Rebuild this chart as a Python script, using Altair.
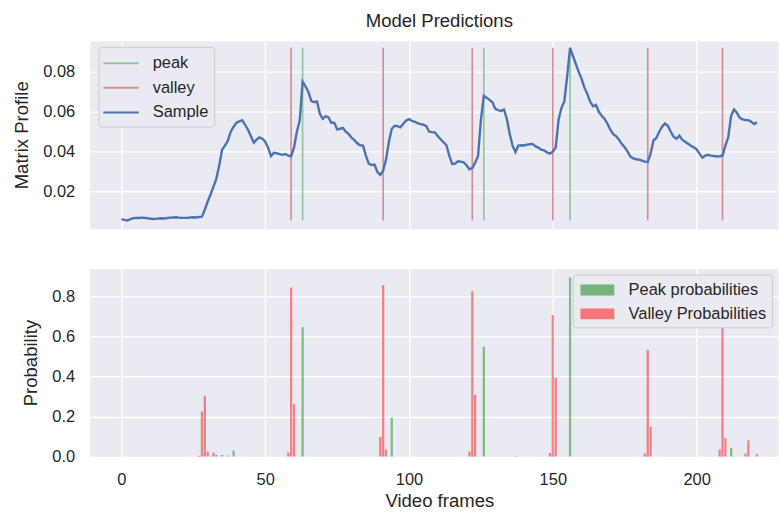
import altair as alt
import pandas as pd

# ---------------- data ----------------
sample = [
    0.0062, 0.0058, 0.0055, 0.0060, 0.0066, 0.0068, 0.0067, 0.0069, 0.0068, 0.0066,
    0.0064, 0.0062, 0.0063, 0.0065, 0.0066, 0.0065, 0.0067, 0.0069, 0.0070, 0.0071,
    0.0069, 0.0068, 0.0068, 0.0068, 0.0070, 0.0071, 0.0070, 0.0072, 0.0074, 0.0110,
    0.0150, 0.0185, 0.0225, 0.0265, 0.0330, 0.0410, 0.0430, 0.0455, 0.0500, 0.0525,
    0.0545, 0.0552, 0.0558, 0.0535, 0.0510, 0.0478, 0.0445, 0.0460, 0.0472, 0.0465,
    0.0450, 0.0420, 0.0378, 0.0394, 0.0392, 0.0388, 0.0384, 0.0388, 0.0380, 0.0377,
    0.0420, 0.0500, 0.0556, 0.0752, 0.0728, 0.0700, 0.0655, 0.0648, 0.0652, 0.0590,
    0.0565, 0.0578, 0.0572, 0.0545, 0.0545, 0.0512, 0.0515, 0.0519, 0.0500, 0.0489,
    0.0470, 0.0458, 0.0442, 0.0432, 0.0430, 0.0380, 0.0340, 0.0333, 0.0335, 0.0298,
    0.0284, 0.0305, 0.0360, 0.0450, 0.0515, 0.0530, 0.0528, 0.0522, 0.0540, 0.0556,
    0.0563, 0.0555, 0.0550, 0.0543, 0.0538, 0.0535, 0.0528, 0.0500, 0.0498, 0.0497,
    0.0478, 0.0462, 0.0447, 0.0432, 0.0380, 0.0338, 0.0340, 0.0352, 0.0350, 0.0346,
    0.0332, 0.0312, 0.0318, 0.0345, 0.0378, 0.0560, 0.0680, 0.0670, 0.0660, 0.0648,
    0.0615, 0.0608, 0.0604, 0.0612, 0.0565, 0.0490, 0.0430, 0.0398, 0.0430, 0.0432,
    0.0431, 0.0435, 0.0437, 0.0439, 0.0426, 0.0420, 0.0410, 0.0406, 0.0396, 0.0390,
    0.0400, 0.0420, 0.0560, 0.0620, 0.0652, 0.0780, 0.0921, 0.0880, 0.0840, 0.0800,
    0.0765, 0.0720, 0.0690, 0.0650, 0.0628, 0.0635, 0.0600, 0.0580, 0.0564, 0.0540,
    0.0510, 0.0488, 0.0478, 0.0460, 0.0438, 0.0422, 0.0400, 0.0375, 0.0366, 0.0362,
    0.0360, 0.0355, 0.0350, 0.0348, 0.0390, 0.0456, 0.0469, 0.0500, 0.0525, 0.0542,
    0.0530, 0.0500, 0.0475, 0.0465, 0.0480, 0.0460, 0.0450, 0.0440, 0.0430, 0.0422,
    0.0412, 0.0390, 0.0370, 0.0380, 0.0384, 0.0380, 0.0378, 0.0376, 0.0377, 0.0380,
    0.0430, 0.0472, 0.0580, 0.0612, 0.0595, 0.0570, 0.0562, 0.0558, 0.0558, 0.0550,
    0.0539, 0.0547,
]
frames = list(range(len(sample)))

peak_frames = [63, 126, 156]
valley_frames = [59, 91, 122, 150, 183, 209]

peak_prob_frames = [35, 39, 63, 94, 126, 156, 212]
peak_prob_values = [0.008, 0.03, 0.647, 0.195, 0.55, 0.896, 0.043]

valley_prob_frames = [27, 28, 29, 30, 32, 33, 37, 58, 59, 60, 90, 91, 92,
                      121, 122, 123, 137, 149, 150, 151, 182, 183, 184,
                      208, 209, 210, 217, 218, 221]
valley_prob_values = [0.004, 0.226, 0.304, 0.025, 0.02, 0.008, 0.005, 0.02, 0.846, 0.263,
                      0.098, 0.858, 0.035, 0.025, 0.828, 0.309, 0.003, 0.018, 0.708, 0.394,
                      0.015, 0.534, 0.148, 0.035, 0.675, 0.093, 0.015, 0.081, 0.012]

x_ticks = [0, 50, 100, 150, 200]

# ---------------- tables ----------------
sample_df = pd.DataFrame({"frame": frames, "value": sample, "kind": "Sample"})
marks_df = pd.DataFrame({
    "frame": peak_frames + valley_frames,
    "kind": ["peak"] * len(peak_frames) + ["valley"] * len(valley_frames),
})
marks_df["y0"] = min(sample)
marks_df["y1"] = max(sample)

bars_df = pd.DataFrame({
    "frame": peak_prob_frames + valley_prob_frames,
    "prob": peak_prob_values + valley_prob_values,
    "series": ["Peak probabilities"] * len(peak_prob_frames)
    + ["Valley Probabilities"] * len(valley_prob_frames),
})

FONT = "Liberation Sans"
TXT = "#262626"
PLOT_W = 691
PLOT_H = 188.7
TICK_FS = 16.5
TITLE_FS = 18.6

xscale = alt.Scale(domain=[-11.05, 228.3], nice=False, zero=False)

top_color = alt.Scale(domain=["peak", "valley", "Sample"],
                      range=["#90C89E", "#DA8C95", "#4C72B0"])
top_legend = alt.Legend(
    title=None, orient="none", legendX=9, legendY=6,
    symbolType="M-1.124,0H2.267", symbolSize=441, symbolStrokeWidth=2,
    labelOffset=26.3, rowPadding=4.7, padding=5,
    fillColor="#EAEAF2", strokeColor="#CCCCCC", cornerRadius=3,
    labelFontSize=TICK_FS, labelFont=FONT, labelColor=TXT,
)

top_x = alt.X("frame:Q", scale=xscale,
              axis=alt.Axis(values=x_ticks, labels=False, ticks=False, domain=False,
                            title=None, grid=True))
top_y_scale = alt.Scale(domain=[0.0013, 0.0956], nice=False, zero=False)
top_y_axis = alt.Axis(values=[0.02, 0.04, 0.06, 0.08], format=".2f", title="Matrix Profile")

rules = alt.Chart(marks_df).mark_rule(strokeWidth=1.7).encode(
    x=top_x,
    y=alt.Y("y0:Q", scale=top_y_scale, axis=top_y_axis),
    y2="y1:Q",
    color=alt.Color("kind:N", scale=top_color, legend=top_legend),
)
line = alt.Chart(sample_df).mark_line(strokeWidth=2.4).encode(
    x=top_x,
    y=alt.Y("value:Q", scale=top_y_scale, axis=top_y_axis),
    color=alt.Color("kind:N", scale=top_color, legend=top_legend),
)
top = alt.layer(rules, line).properties(
    width=PLOT_W, height=PLOT_H,
    title=alt.TitleParams("Model Predictions", anchor="middle", dx=5.5, offset=10,
                          font=FONT, fontSize=TITLE_FS, fontWeight="normal", color=TXT),
)

bottom_color = alt.Scale(domain=["Peak probabilities", "Valley Probabilities"],
                         range=["#008000", "#FF0000"])
bottom_legend = alt.Legend(
    title=None, orient="none", legendX=485, legendY=6,
    symbolType="M-0.743,-0.524H2.495V0.524H-0.743Z", symbolSize=441,
    symbolStrokeWidth=0, symbolOpacity=0.5,
    labelOffset=30, rowPadding=5, padding=5,
    fillColor="#EAEAF2", strokeColor="#CCCCCC", cornerRadius=3,
    labelFontSize=TICK_FS, labelFont=FONT, labelColor=TXT,
)

bottom = alt.Chart(bars_df).transform_calculate(
    x0="datum.frame - 0.4", x1="datum.frame + 0.4"
).mark_bar(opacity=0.45, strokeWidth=0).encode(
    x=alt.X("x0:Q", scale=xscale,
            axis=alt.Axis(values=x_ticks, title="Video frames", titlePadding=4,
                          titleX=351)),
    x2="x1:Q",
    y=alt.Y("prob:Q", scale=alt.Scale(domain=[0, 0.941], nice=False),
            axis=alt.Axis(values=[0, 0.2, 0.4, 0.6, 0.8], format=".1f", title="Probability")),
    y2=alt.datum(0),
    color=alt.Color("series:N", scale=bottom_color, legend=bottom_legend),
).properties(width=PLOT_W, height=PLOT_H)

chart = alt.vconcat(top, bottom, spacing=39.6, bounds="flush").resolve_scale(
    color="independent"
).resolve_legend(color="independent").properties(
    autosize=alt.AutoSizeParams(type="pad"),
    padding={"left": 11, "top": 10, "right": 0, "bottom": 0},
    background="white",
).configure_view(
    fill="#EAEAF2", stroke="transparent"
).configure_axis(
    gridColor="white", gridWidth=1.3, domain=False, ticks=False,
    labelFont=FONT, labelFontSize=TICK_FS, labelColor=TXT, labelPadding=15,
    titleFont=FONT, titleFontSize=TITLE_FS, titleColor=TXT, titleFontWeight="normal",
    titlePadding=11.5,
)

chart.save("out.html", embed_options={"renderer": "svg", "actions": False})
